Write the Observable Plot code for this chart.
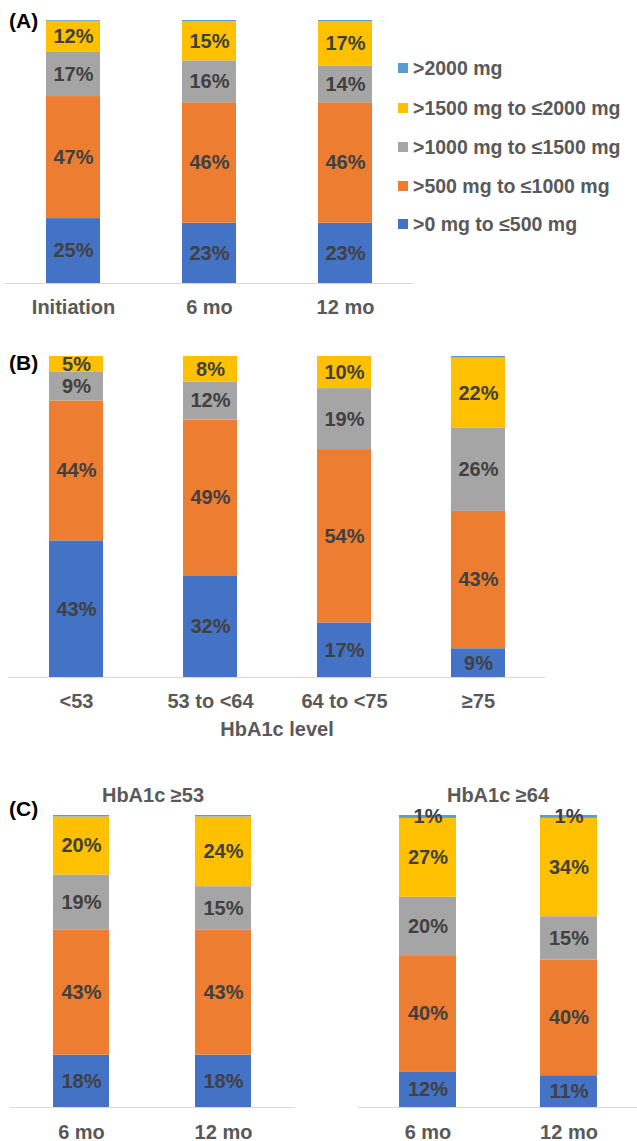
<!DOCTYPE html>
<html>
<head>
<meta charset="utf-8">
<script src="https://cdn.jsdelivr.net/npm/d3@7"></script>
<script src="https://cdn.jsdelivr.net/npm/@observablehq/plot@0.6"></script>
<style>
  html, body { margin: 0; padding: 0; background: #fff; overflow: hidden; }
  #root { position: relative; width: 637px; height: 1141px; font-family: "Liberation Sans", Arial, sans-serif; }
  .abs { position: absolute; }
  .plabel { position: absolute; font-weight: bold; font-size: 21px; color: #000; left: 9px; line-height: 1; }
  .leg { position: absolute; left: 398px; font-weight: bold; font-size: 19.5px; color: #595959; white-space: nowrap; line-height: 22px; }
  .leg .sw { display: inline-block; width: 10px; height: 10px; margin-right: 5px; vertical-align: middle; position: relative; top: -2px; }
</style>
</head>
<body>
<div id="root"></div>
<script>
// ---- data ----
const series = [">0 mg to ≤500 mg", ">500 mg to ≤1000 mg", ">1000 mg to ≤1500 mg", ">1500 mg to ≤2000 mg", ">2000 mg"];
const colors = ["#4472C4", "#ED7D31", "#A5A5A5", "#FFC000", "#5B9BD5"];

// Panel A
const catsA = ["Initiation", "6 mo", "12 mo"];
const valsA = [
  [25, 23, 23],     // >0 to ≤500
  [47, 46, 46],     // >500 to ≤1000
  [17, 16, 14],     // >1000 to ≤1500
  [12, 15, 17],     // >1500 to ≤2000
  [0.3, 0.4, 0.4]   // >2000
];

// Panel B
const catsB = ["<53", "53 to <64", "64 to <75", "≥75"];
const valsB = [
  [43, 32, 17, 9],
  [44, 49, 54, 43],
  [9, 12, 19, 26],
  [5, 8, 10, 22],
  [0, 0, 0, 0.5]
];
const axisLabelB = "HbA1c level";

// Panel C
const catsC = ["6 mo", "12 mo"];
const titleC1 = "HbA1c ≥53";
const valsC1 = [
  [18, 18],
  [43, 43],
  [19, 15],
  [20, 24],
  [0.5, 0.5]
];
const titleC2 = "HbA1c ≥64";
const valsC2 = [
  [12, 11],
  [40, 40],
  [20, 15],
  [27, 34],
  [1, 1]
];

const panelLabels = ["(A)", "(B)", "(C)"];

// ---- helpers ----
const FONT = "Liberation Sans, Arial, sans-serif";
const FS = 20;
function rows(cats, vals) {
  const out = [];
  series.forEach((s, i) => cats.forEach((c, j) => out.push({cat: c, series: s, value: vals[i][j]})));
  return out;
}

function chart({cats, vals, width, height, mt, mb, ml, mr, pi, po, tickPad, title, xlabel, labelDy}) {
  const data = rows(cats, vals);
  const marks = [
    Plot.barY(data, Plot.stackY({x: "cat", y: "value", z: "series", fill: "series", order: series, offset: "normalize"})),
    Plot.text(data, Plot.stackY({x: "cat", y: "value", z: "series", order: series, offset: "normalize",
      text: d => d.value >= 1 ? d.value + "%" : "", fill: "#404040", fontSize: FS, fontWeight: "bold", fontFamily: FONT, lineAnchor: "middle"})),
    Plot.ruleY([0], {stroke: "#d9d9d9", strokeWidth: 1.2}),
    Plot.axisX({tickSize: 0, tickPadding: tickPad, fontSize: FS, fontWeight: "bold", fill: "#595959", fontFamily: FONT, label: null})
  ];
  if (title) marks.push(Plot.text([title], {frameAnchor: "top", lineAnchor: "middle", dy: -20, fontSize: FS, fontWeight: "bold", fill: "#595959", fontFamily: FONT}));
  if (xlabel) marks.push(Plot.text([xlabel], {frameAnchor: "bottom", lineAnchor: "middle", dy: labelDy, fontSize: FS, fontWeight: "bold", fill: "#595959", fontFamily: FONT}));
  return Plot.plot({
    width, height,
    marginTop: mt, marginBottom: mb, marginLeft: ml, marginRight: mr,
    style: {fontFamily: FONT, background: "transparent", overflow: "visible"},
    x: {domain: cats, paddingInner: pi, paddingOuter: po, label: null, axis: null},
    y: {domain: [0, 1], axis: null},
    color: {domain: series, range: colors},
    marks
  });
}

const root = document.getElementById("root");
function place(el, left, top) {
  el.classList.add("abs");
  el.style.left = left + "px";
  el.style.top = top + "px";
  root.appendChild(el);
}

// Panel A
place(chart({cats: catsA, vals: valsA, width: 420, height: 325, mt: 20, mb: 42, ml: 5, mr: 7, pi: 0.603, po: 0.3015, tickPad: 16}), 0, 0);
// Panel B
place(chart({cats: catsB, vals: valsB, width: 560, height: 405, mt: 16, mb: 68, ml: 8, mr: 15, pi: 0.598, po: 0.299, tickPad: 16, xlabel: axisLabelB, labelDy: 52}), 0, 340);
// Panel C left
place(chart({cats: catsC, vals: valsC1, width: 300, height: 366, mt: 40, mb: 34, ml: 10, mr: 5, pi: 0.604, po: 0.302, tickPad: 17, title: titleC1}), 0, 775);
// Panel C right
place(chart({cats: catsC, vals: valsC2, width: 337, height: 366, mt: 40, mb: 34, ml: 58, mr: 0, pi: 0.596, po: 0.287, tickPad: 17, title: titleC2}), 300, 775);

// Panel labels
const labelY = [21, 363, 809];
panelLabels.forEach((t, i) => {
  const d = document.createElement("div");
  d.className = "plabel";
  d.textContent = t;
  d.style.top = (labelY[i] - 11) + "px";
  root.appendChild(d);
});

// Legend (top to bottom: reverse of stack order)
const legY = [68, 108, 147, 186, 224];
series.slice().reverse().forEach((s, i) => {
  const d = document.createElement("div");
  d.className = "leg";
  d.style.top = (legY[i] - 11) + "px";
  const sw = document.createElement("span");
  sw.className = "sw";
  sw.style.background = colors[series.length - 1 - i];
  d.appendChild(sw);
  d.appendChild(document.createTextNode(s));
  root.appendChild(d);
});
</script>
</body>
</html>
